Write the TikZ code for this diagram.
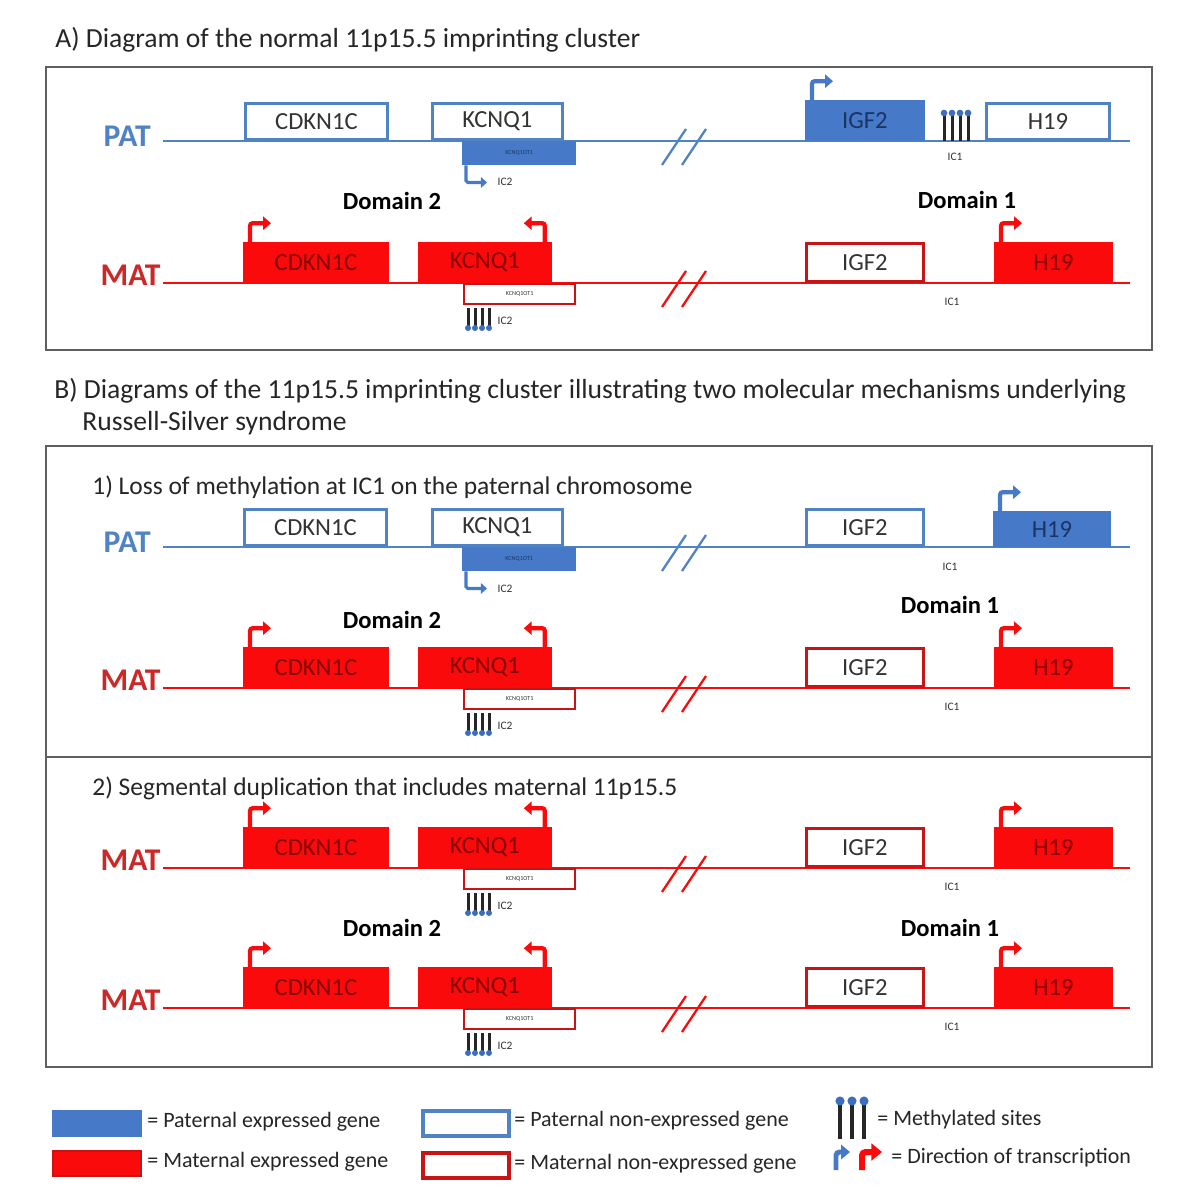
\documentclass[tikz,border=0pt]{standalone}
\usepackage{fontspec}
\setmainfont{Carlito}
\usetikzlibrary{arrows.meta}

\definecolor{patblue}{RGB}{79,131,196}
\definecolor{patfill}{RGB}{70,122,200}
\definecolor{patdark}{RGB}{28,52,100}
\definecolor{matred}{RGB}{250,10,10}
\definecolor{matedge}{RGB}{200,20,20}
\definecolor{matdark}{RGB}{135,0,0}
\definecolor{matlab}{RGB}{205,40,40}
\definecolor{framegray}{RGB}{95,95,95}
\definecolor{dotblue}{RGB}{60,110,190}

\newcommand{\pxu}{0.02cm}
\newcommand{\genefont}{\fontsize{14}{16}\selectfont}

\begin{document}
\begin{tikzpicture}[x=0.02cm, y=-0.02cm,
  gene/.style={rectangle, anchor=south west, minimum height=38*\pxu, inner sep=0pt, line width=1.6pt, font=\genefont},
  ot/.style={rectangle, anchor=north west, minimum width=111*\pxu, minimum height=20*\pxu, inner sep=0pt, line width=1.4pt, font=\fontsize{3.5}{4}\selectfont},
  pexp/.style={fill=patfill, draw=patfill, text=patdark},
  pnon/.style={fill=white, draw=patblue, text=black!80, minimum height=36*\pxu},
  mexp/.style={fill=matred, draw=matred, text=matdark},
  mnon/.style={fill=white, draw=matedge, text=black!80},
  patline/.style={patblue, line width=1.3pt},
  matline/.style={matred, line width=1.3pt},
  ptss/.style={patfill, line width=2.4pt, rounded corners=1.5pt, -{Triangle[length=4.5pt, width=7.5pt]}},
  mtss/.style={matred, line width=2.4pt, rounded corners=1.5pt, -{Triangle[length=4.5pt, width=7.5pt]}},
  ic2arr/.style={patfill, line width=1.8pt, rounded corners=1pt, -{Triangle[length=3.5pt, width=6pt]}},
  meth/.style={black!85, line width=1.7pt},
  lab/.style={font=\fontsize{18}{20}\selectfont\bfseries, inner sep=0pt},
  dom/.style={font=\fontsize{14}{16}\selectfont\bfseries, inner sep=0pt},
  head/.style={font=\fontsize{15.7}{18}\selectfont, anchor=base west, inner sep=0pt, text=black!85},
  sub/.style={font=\fontsize{14.5}{16}\selectfont, anchor=base west, inner sep=0pt, text=black!85},
  ic/.style={font=\fontsize{6.5}{7}\selectfont, inner sep=0pt, text=black!80},
  key/.style={font=\fontsize{12.5}{14}\selectfont, anchor=west, inner sep=0pt, text=black!85},
  frame/.style={draw=framegray, line width=1.3pt}]

\useasboundingbox (0,0) rectangle (1202,1200);
\fill[white] (0,0) rectangle (1202,1200);

% headings and frames
\node[head] (ta) at (55,47) {A) Diagram of the normal 11p15.5 imprinting cluster};
\draw[frame] (46,67) rectangle (1152,350);
\node[head] (tb) at (54,398) {B) Diagrams of the 11p15.5 imprinting cluster illustrating two molecular mechanisms underlying};
\node[head] (tb2) at (82,430) {Russell-Silver syndrome};
\draw[frame] (46,446) rectangle (1152,1067);
\draw[frame] (46,757) -- (1152,757);
\node[sub] (t1) at (92,494) {1) Loss of methylation at IC1 on the paternal chromosome};
\node[sub] (t2) at (92,795) {2) Segmental duplication that includes maternal 11p15.5};

% A) paternal chromosome
\coordinate (pa-s) at (163,141);
\coordinate (pa-e) at (1130,141);
\node[lab, text=patblue, anchor=base east] (pa-lab) at (151,146) {PAT};
\draw[patline] (pa-s) -- (pa-e);
\draw[patline] (662,165) -- (686,129) (682,165) -- (706,129);
\node[gene, pnon, minimum width=142*\pxu] (pa-cdk) at (244,141) {CDKN1C};
\node[gene, pnon, minimum width=130*\pxu] (pa-kcn) at (431,141) {KCNQ1};
\node[ot, pexp, minimum width=112*\pxu, minimum height=22*\pxu] (pa-ot) at (462,141) {KCNQ1OT1};
\draw[ic2arr] ([xshift=4*\pxu]pa-ot.south west) -- ++(0,17) -- ++(21,0);
\node[ic] (pa-ic2) at (505,182) {IC2};
\node[gene, pexp, minimum width=117*\pxu] (pa-igf) at (805,141) {IGF2};
\draw[ptss] ([xshift=7*\pxu]pa-igf.north west) -- ++(0,-19) -- ++(21,0);
\foreach \s in {0,...,3} {
  \draw[meth] (944+8*\s,141) -- (944+8*\s,114);
  \fill[dotblue] (944+8*\s,113) circle (1.9pt);
}
\node[gene, pnon, minimum width=123*\pxu] (pa-h19) at (985,141) {H19};
\node[ic] (pa-ic1) at (955,157) {IC1};

\node[dom] (a-d2) at (392,201) {Domain 2};
\node[dom] (a-d1) at (967,200) {Domain 1};

% B1) paternal chromosome without IC1 methylation
\coordinate (pb-s) at (163,547);
\coordinate (pb-e) at (1130,547);
\node[lab, text=patblue, anchor=base east] (pb-lab) at (151,552) {PAT};
\draw[patline] (pb-s) -- (pb-e);
\draw[patline] (662,571) -- (686,535) (682,571) -- (706,535);
\node[gene, pnon, minimum width=142*\pxu] (pb-cdk) at (243,547) {CDKN1C};
\node[gene, pnon, minimum width=130*\pxu] (pb-kcn) at (431,547) {KCNQ1};
\node[ot, pexp, minimum width=112*\pxu, minimum height=22*\pxu] (pb-ot) at (462,547) {KCNQ1OT1};
\draw[ic2arr] ([xshift=4*\pxu]pb-ot.south west) -- ++(0,17) -- ++(21,0);
\node[ic] (pb-ic2) at (505,589) {IC2};
\node[gene, pnon, minimum width=117*\pxu] (pb-igf) at (805,547) {IGF2};
\node[gene, pexp, minimum width=115*\pxu, minimum height=33*\pxu] (pb-h19) at (993,547) {H19};
\draw[ptss] ([xshift=7*\pxu]pb-h19.north west) -- ++(0,-19) -- ++(21,0);
\node[ic] (pb-ic1) at (950,567) {IC1};

\node[dom] (b-d2) at (392,620) {Domain 2};
\node[dom] (b-d1) at (950,605) {Domain 1};
\node[dom] (c-d2) at (392,928) {Domain 2};
\node[dom] (c-d1) at (950,928) {Domain 1};

% maternal chromosomes
\foreach \n/\L in {a/283,b/688,c/868,d/1008} {
  \coordinate (m\n-s) at (163,\L);
  \coordinate (m\n-e) at (1130,\L);
  \node[lab, text=matlab, anchor=base east] (m\n-lab) at (161,\L+2) {MAT};
  \draw[matline] (m\n-s) -- (m\n-e);
  \draw[matline] (662,\L+24) -- (686,\L-12) (682,\L+24) -- (706,\L-12);
  \node[gene, mexp, minimum width=143*\pxu] (m\n-cdk) at (243,\L) {CDKN1C};
  \node[gene, mexp, minimum width=131*\pxu] (m\n-kcn) at (418,\L) {KCNQ1};
  \node[ot, mnon] (m\n-ot) at (463,\L) {KCNQ1OT1};
  \node[gene, mnon, minimum width=117*\pxu] (m\n-igf) at (805,\L) {IGF2};
  \node[gene, mexp, minimum width=116*\pxu] (m\n-h19) at (994,\L) {H19};
  \draw[mtss] ([xshift=7*\pxu]m\n-cdk.north west) -- ++(0,-19) -- ++(21,0);
  \draw[mtss] ([xshift=-7*\pxu]m\n-kcn.north east) -- ++(0,-19) -- ++(-21,0);
  \draw[mtss] ([xshift=7*\pxu]m\n-h19.north west) -- ++(0,-19) -- ++(21,0);
  \foreach \s in {0,...,3} {
    \draw[meth] (468+7*\s,\L+25) -- (468+7*\s,\L+44);
    \fill[dotblue] (468+7*\s,\L+45) circle (1.7pt);
  }
  \node[ic] (m\n-ic2) at (505,\L+38) {IC2};
  \node[ic] (m\n-ic1) at (952,\L+19) {IC1};
}

% legend
\node[rectangle, anchor=north west, fill=patfill, draw=patfill, line width=1pt, minimum width=88*\pxu, minimum height=25*\pxu, inner sep=0pt] (k-pe) at (52,1110) {};
\node[key, anchor=west] (k-pe-t) at (147,1122) {= Paternal expressed gene};
\node[rectangle, anchor=north west, fill=matred, draw=matedge, line width=1pt, minimum width=88*\pxu, minimum height=25*\pxu, inner sep=0pt] (k-me) at (52,1150) {};
\node[key] (k-me-t) at (147,1162) {= Maternal expressed gene};
\node[rectangle, anchor=north west, fill=white, draw=patblue, line width=2pt, minimum width=86*\pxu, minimum height=25*\pxu, inner sep=0pt] (k-pn) at (421,1109) {};
\node[key] (k-pn-t) at (514,1121) {= Paternal non-expressed gene};
\node[rectangle, anchor=north west, fill=white, draw=matedge, line width=2.4pt, minimum width=86*\pxu, minimum height=25*\pxu, inner sep=0pt] (k-mn) at (421,1151) {};
\node[key] (k-mn-t) at (514,1164) {= Maternal non-expressed gene};
\foreach \s in {0,...,2} {
  \draw[black!85, line width=2.2pt] (840+12*\s,1139) -- (840+12*\s,1103);
  \fill[dotblue] (840+12*\s,1101) circle (2.6pt);
}
\node[key] (k-me-s) at (877,1120) {= Methylated sites};
\coordinate (k-ab) at (836,1170);
\coordinate (k-ar) at (862,1170);
\draw[patfill, line width=2.8pt, rounded corners=2pt, -{Triangle[length=5pt, width=8pt]}] (k-ab) -- ++(0,-18) -- ++(14,0);
\draw[matred, line width=3.4pt, rounded corners=2pt, -{Triangle[length=6pt, width=9.5pt]}] (k-ar) -- ++(0,-18) -- ++(20,0);
\node[key] (k-dir) at (891,1158) {= Direction of transcription};

\end{tikzpicture}
\end{document}
